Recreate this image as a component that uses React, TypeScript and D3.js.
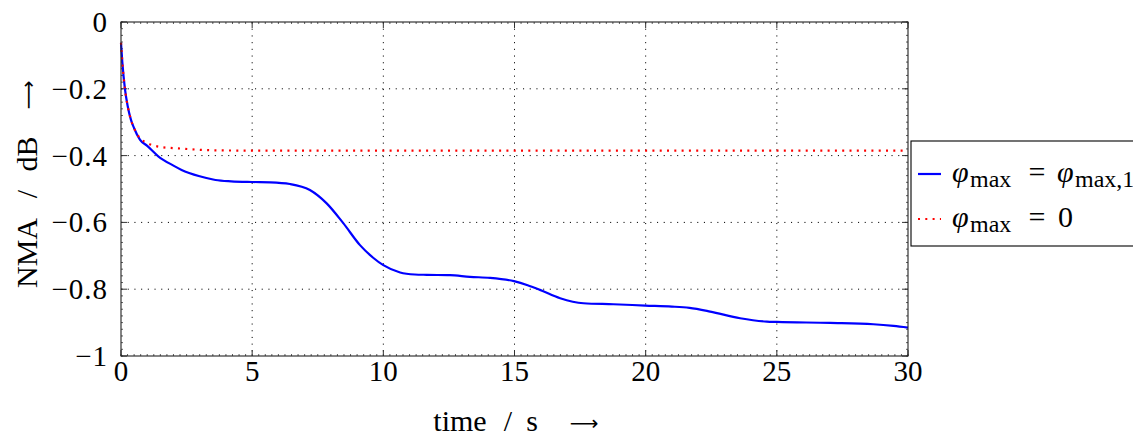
import React from "react";
import * as d3 from "d3";

// NMA over time for two limits of the angle
const timeA = [0, 0.05, 0.15, 0.25, 0.38, 0.5, 0.72, 1.0, 1.42, 2.0, 2.31, 3.0, 3.6, 4.2, 5.0, 5.7, 6.44, 7.2, 7.84, 8.48, 9.11, 9.6, 10.0, 10.64, 11.2, 11.65, 12.54, 13.3, 14.07, 14.98, 15.5, 15.97, 16.74, 17.63, 18.77, 19.98, 21.0, 21.67, 22.46, 23.6, 24.62, 25.0, 27.03, 28.68, 29.45, 30];
const nmaA = [-0.062, -0.12, -0.2, -0.25, -0.293, -0.318, -0.352, -0.371, -0.402, -0.43, -0.443, -0.462, -0.473, -0.477, -0.479, -0.48, -0.485, -0.503, -0.543, -0.603, -0.668, -0.705, -0.728, -0.75, -0.756, -0.757, -0.758, -0.763, -0.766, -0.776, -0.788, -0.802, -0.827, -0.842, -0.845, -0.849, -0.852, -0.856, -0.867, -0.887, -0.897, -0.898, -0.901, -0.905, -0.91, -0.915];

const timeB = [0, 0.05, 0.15, 0.25, 0.38, 0.5, 0.69, 1.0, 1.17, 1.5, 2.31, 3.46, 5, 10, 20, 30];
const nmaB = [-0.062, -0.12, -0.2, -0.25, -0.293, -0.318, -0.345, -0.362, -0.368, -0.374, -0.379, -0.384, -0.385, -0.385, -0.385, -0.385];

const xTicks = [0, 5, 10, 15, 20, 25, 30];
const yTicks = [0, -0.2, -0.4, -0.6, -0.8, -1];

const W = 1133;
const H = 437;
const M = { left: 121, right: 908, top: 22, bottom: 356 };
const FONT = "Liberation Serif, DejaVu Serif, serif";
const ARROW_FONT = "DejaVu Sans, sans-serif";

export default function App() {
  const x = d3.scaleLinear().domain([0, 30]).range([M.left, M.right]);
  const y = d3.scaleLinear().domain([-1, 0]).range([M.bottom, M.top]);

  const line = d3
    .line<[number, number]>()
    .x((d) => x(d[0]))
    .y((d) => y(d[1]))
    .curve(d3.curveMonotoneX);

  const pathA = line(timeA.map((t, i) => [t, nmaA[i]]))!;
  const pathB = line(timeB.map((t, i) => [t, nmaB[i]]))!;

  const xMinor = d3.range(0, 30.0001, 0.25);
  const yMinor = d3.range(-1, 0.0001, 0.02);

  const fmt = (v: number) => (v < 0 ? "\u2212" + String(Math.abs(v)) : String(v));

  return (
    <svg
      width={W}
      height={H}
      style={{ position: "absolute", left: 0, top: 0, display: "block", background: "#fff", fontFamily: FONT }}
    >
      {/* grid */}
      <g stroke="#000" strokeWidth={1} strokeDasharray="1.1 5.6">
        {xTicks.slice(1, -1).map((t) => (
          <line key={"gx" + t} x1={x(t)} x2={x(t)} y1={M.top} y2={M.bottom} />
        ))}
        {yTicks.slice(1, -1).map((t) => (
          <line key={"gy" + t} x1={M.left} x2={M.right} y1={y(t)} y2={y(t)} />
        ))}
      </g>

      {/* minor ticks */}
      <g stroke="#333" strokeWidth={0.8}>
        {xMinor.map((t) => (
          <g key={"mx" + t}>
            <line x1={x(t)} x2={x(t)} y1={M.bottom} y2={M.bottom - 2} />
            <line x1={x(t)} x2={x(t)} y1={M.top} y2={M.top + 2} />
          </g>
        ))}
        {yMinor.map((t) => (
          <g key={"my" + t}>
            <line x1={M.left} x2={M.left + 2} y1={y(t)} y2={y(t)} />
            <line x1={M.right} x2={M.right - 2} y1={y(t)} y2={y(t)} />
          </g>
        ))}
      </g>

      {/* major ticks */}
      <g stroke="#333" strokeWidth={1}>
        {xTicks.map((t) => (
          <g key={"tx" + t}>
            <line x1={x(t)} x2={x(t)} y1={M.bottom} y2={M.bottom - 6} />
            <line x1={x(t)} x2={x(t)} y1={M.top} y2={M.top + 6} />
          </g>
        ))}
        {yTicks.map((t) => (
          <g key={"ty" + t}>
            <line x1={M.left} x2={M.left + 6} y1={y(t)} y2={y(t)} />
            <line x1={M.right} x2={M.right - 6} y1={y(t)} y2={y(t)} />
          </g>
        ))}
      </g>

      {/* curves */}
      <path d={pathA} fill="none" stroke="#0000ff" strokeWidth={2.2} />
      <path d={pathB} fill="none" stroke="#ff0000" strokeWidth={2.2} strokeDasharray="2 5.3" />

      {/* frame */}
      <rect x={M.left} y={M.top} width={M.right - M.left} height={M.bottom - M.top} fill="none" stroke="#222" strokeWidth={1.1} />

      {/* tick labels */}
      <g fontSize={29} fill="#000">
        {xTicks.map((t) => (
          <text key={"lx" + t} x={x(t)} y={381} textAnchor="middle">
            {fmt(t)}
          </text>
        ))}
        {yTicks.map((t) => (
          <text key={"ly" + t} x={108} y={y(t) + 10} textAnchor="end" letterSpacing={1}>
            {fmt(t)}
          </text>
        ))}
      </g>

      {/* axis titles */}
      <g fontSize={30} fill="#000">
        <text x={460} y={431} textAnchor="middle">time</text>
        <text x={508} y={431} textAnchor="middle">/</text>
        <text x={532} y={431} textAnchor="middle">s</text>
        <text x={584} y={429.5} textAnchor="middle" fontFamily={ARROW_FONT} fontSize={20}>
          {"\u27F6"}
        </text>
        <g transform="translate(37,0) rotate(-90)">
          <text x={-253} y={0} textAnchor="middle">NMA</text>
          <text x={-194} y={0} textAnchor="middle">/</text>
          <text x={-154} y={0} textAnchor="middle">dB</text>
          <text x={-95} y={-2.5} textAnchor="middle" fontFamily={ARROW_FONT} fontSize={20}>
            {"\u27F6"}
          </text>
        </g>
      </g>

      {/* legend */}
      <g fill="#000">
        <rect x={911} y={141} width={260} height={105} fill="#fff" stroke="#000" strokeWidth={1.1} />
        <line x1={918} x2={941} y1={174} y2={174} stroke="#0000ff" strokeWidth={2.2} />
        <line x1={918} x2={941} y1={219} y2={219} stroke="#ff0000" strokeWidth={2.2} strokeDasharray="2 5.3" />

        <text x={952} y={182} fontSize={30} fontStyle="italic">{"\u03C6"}</text>
        <text x={970} y={187} fontSize={24}>max</text>
        <text x={1037} y={182} fontSize={30} textAnchor="middle">=</text>
        <text x={1057} y={182} fontSize={30} fontStyle="italic">{"\u03C6"}</text>
        <text x={1075} y={187} fontSize={24}>max,1</text>

        <text x={952} y={227} fontSize={30} fontStyle="italic">{"\u03C6"}</text>
        <text x={970} y={232} fontSize={24}>max</text>
        <text x={1037} y={227} fontSize={30} textAnchor="middle">=</text>
        <text x={1058} y={227} fontSize={30}>0</text>
      </g>
    </svg>
  );
}
